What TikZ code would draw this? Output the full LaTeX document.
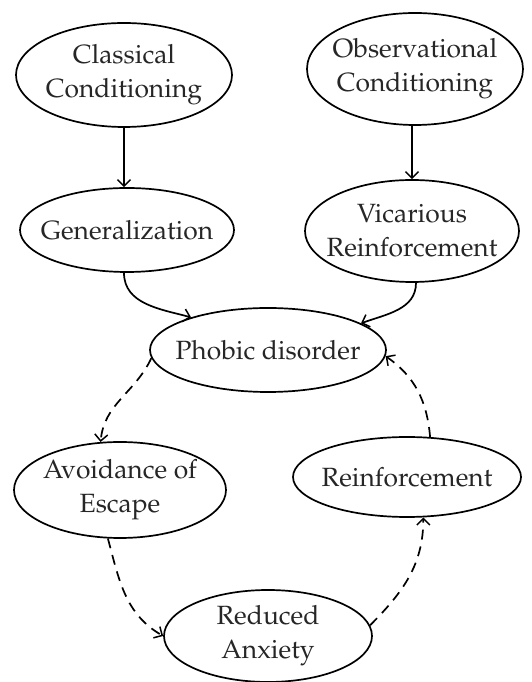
\documentclass[tikz,border=0pt]{standalone}
\usepackage[T1]{fontenc}
\usepackage{mathpazo}
\usetikzlibrary{shapes.geometric,arrows.meta}
\begin{document}
\begin{tikzpicture}[x=1pt,y=1pt,
  every node/.style={font=\fontsize{26.4}{34}\selectfont, text=black!85},
  % negative inner sep lets the fixed minimum size set the ellipse
  oval/.style={ellipse, draw, line width=1.7pt, inner xsep=-60pt, inner ysep=-30pt, align=center},
  link/.style={line width=1.7pt, -{Straight Barb[length=6.5pt,width=13pt,line width=1.5pt]}},
  dlink/.style={link, dash pattern=on 10pt off 7pt}]
\useasboundingbox (0,0) rectangle (532,682);

% upper sources
\node[oval, minimum width=216pt, minimum height=104pt] (cc) at (124,607) {Classical\\Conditioning};
\node[oval, minimum width=216pt, minimum height=112pt] (oc) at (415,613) {Observational\\Conditioning};
\node[oval, minimum width=214pt, minimum height=84pt]  (gen) at (127,452) {Generalization};
\node[oval, minimum width=214pt, minimum height=102pt] (vic) at (412,451) {Vicarious\\Reinforcement};

% central node and cycle
\node[oval, minimum width=236pt, minimum height=84pt]  (pho) at (268,332) {Phobic disorder};
\node[oval, minimum width=212pt, minimum height=96pt]  (avo) at (120,192) {Avoidance of\\Escape};
\node[oval, minimum width=228pt, minimum height=80pt]  (rei) at (407,205) {Reinforcement};
\node[oval, minimum width=208pt, minimum height=92pt]  (red) at (268,46)  {Reduced\\Anxiety};

% solid arrows
\draw[link] (cc.south) -- (cc.south |- gen.north);
\draw[link] (vic.north |- oc.south) -- (vic.north);
\draw[link] ([xshift=-3pt]gen.south) to[out=-90, in=165] (pho.157);
\draw[link] ([xshift=4pt]vic.south) to[out=-90, in=20] (pho.16);

% dashed cycle
\draw[dlink] (pho.184) to[out=-115, in=85] (avo.112);
\draw[dlink] (avo.-104) to[out=-75, in=150] (red.west);
\draw[dlink] (red.6) to[out=45, in=-90] (rei.-68);
\draw[dlink] (rei.60) to[out=95, in=-35] (pho.-3);
\end{tikzpicture}
\end{document}
